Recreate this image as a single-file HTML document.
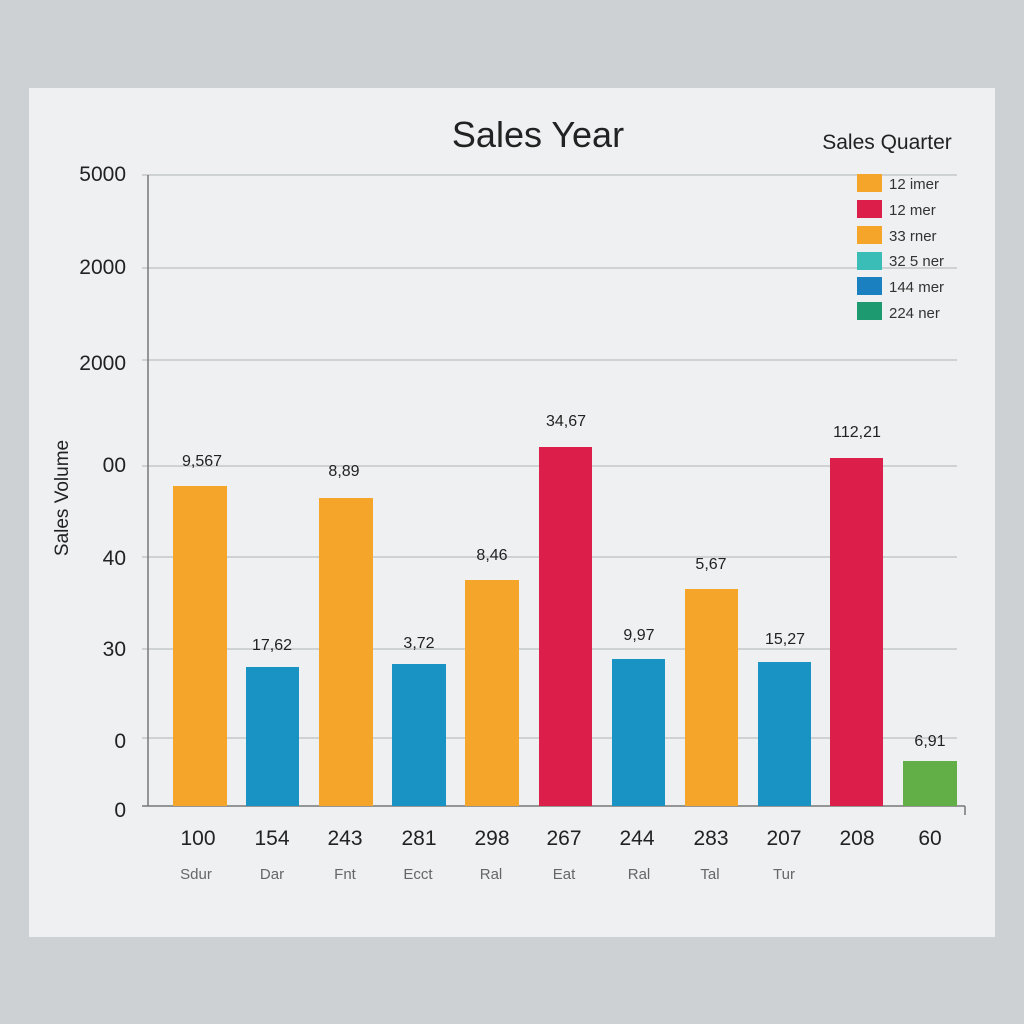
<!DOCTYPE html>
<html><head><style>
html,body{margin:0;padding:0;background:#cdd1d3;}
svg{display:block;font-family:"Liberation Sans",sans-serif;}
</style></head><body>
<svg width="1024" height="1024" viewBox="0 0 1024 1024">
<rect width="1024" height="1024" fill="#cdd1d3"/>
<rect x="29" y="88" width="966" height="849" fill="#eef0f1"/>
<text x="538" y="147" font-size="36" text-anchor="middle" fill="#222">Sales Year</text>
<text x="887" y="149" font-size="21" text-anchor="middle" fill="#222">Sales Quarter</text>
<g stroke="#c4c7c9" stroke-width="1.5">
<line x1="142" y1="175" x2="957" y2="175"/>
<line x1="142" y1="268" x2="957" y2="268"/>
<line x1="142" y1="360" x2="957" y2="360"/>
<line x1="142" y1="466" x2="957" y2="466"/>
<line x1="142" y1="557" x2="957" y2="557"/>
<line x1="142" y1="649" x2="957" y2="649"/>
<line x1="142" y1="738" x2="957" y2="738"/>
</g>
<line x1="148" y1="175" x2="148" y2="806" stroke="#777" stroke-width="1.5"/>
<line x1="142" y1="806" x2="965" y2="806" stroke="#777" stroke-width="1.5"/>
<line x1="965" y1="806" x2="965" y2="815" stroke="#777" stroke-width="1.5"/>
<g font-size="21" fill="#222" text-anchor="end">
<text x="126" y="181">5000</text>
<text x="126" y="274">2000</text>
<text x="126" y="370">2000</text>
<text x="126" y="472">00</text>
<text x="126" y="565">40</text>
<text x="126" y="656">30</text>
<text x="126" y="748">0</text>
<text x="126" y="817">0</text>
</g>
<text transform="translate(68,498) rotate(-90)" font-size="19" text-anchor="middle" fill="#222">Sales Volume</text>
<g>
<rect x="173" y="486" width="54" height="320" fill="#f5a62a"/>
<rect x="246" y="667" width="53" height="139" fill="#1993c4"/>
<rect x="319" y="498" width="54" height="308" fill="#f5a62a"/>
<rect x="392" y="664" width="54" height="142" fill="#1993c4"/>
<rect x="465" y="580" width="54" height="226" fill="#f5a62a"/>
<rect x="539" y="447" width="53" height="359" fill="#dc1e4a"/>
<rect x="612" y="659" width="53" height="147" fill="#1993c4"/>
<rect x="685" y="589" width="53" height="217" fill="#f5a62a"/>
<rect x="758" y="662" width="53" height="144" fill="#1993c4"/>
<rect x="830" y="458" width="53" height="348" fill="#dc1e4a"/>
<rect x="903" y="761" width="54" height="45" fill="#62ae47"/>
</g>
<g font-size="16" fill="#222" text-anchor="middle">
<text x="202" y="466">9,567</text>
<text x="272" y="650">17,62</text>
<text x="344" y="476">8,89</text>
<text x="419" y="648">3,72</text>
<text x="492" y="560">8,46</text>
<text x="566" y="426">34,67</text>
<text x="639" y="640">9,97</text>
<text x="711" y="569">5,67</text>
<text x="785" y="644">15,27</text>
<text x="857" y="437">112,21</text>
<text x="930" y="746">6,91</text>
</g>
<g font-size="21" fill="#222" text-anchor="middle">
<text x="198" y="845">100</text>
<text x="272" y="845">154</text>
<text x="345" y="845">243</text>
<text x="419" y="845">281</text>
<text x="492" y="845">298</text>
<text x="564" y="845">267</text>
<text x="637" y="845">244</text>
<text x="711" y="845">283</text>
<text x="784" y="845">207</text>
<text x="857" y="845">208</text>
<text x="930" y="845">60</text>
</g>
<g font-size="15" fill="#666" text-anchor="middle">
<text x="196" y="879">Sdur</text>
<text x="272" y="879">Dar</text>
<text x="345" y="879">Fnt</text>
<text x="418" y="879">Ecct</text>
<text x="491" y="879">Ral</text>
<text x="564" y="879">Eat</text>
<text x="639" y="879">Ral</text>
<text x="710" y="879">Tal</text>
<text x="784" y="879">Tur</text>
</g>
<g>
<rect x="857" y="174" width="25" height="18" fill="#f5a62a"/>
<rect x="857" y="200" width="25" height="18" fill="#dc1e4a"/>
<rect x="857" y="226" width="25" height="18" fill="#f5a62a"/>
<rect x="857" y="252" width="25" height="18" fill="#3bbdb7"/>
<rect x="857" y="277" width="25" height="18" fill="#1a80c0"/>
<rect x="857" y="302" width="25" height="18" fill="#1e9a70"/>
</g>
<g font-size="15" fill="#333">
<text x="889" y="189">12 imer</text>
<text x="889" y="215">12 mer</text>
<text x="889" y="241">33 rner</text>
<text x="889" y="266">32 5 ner</text>
<text x="889" y="292">144 mer</text>
<text x="889" y="318">224 ner</text>
</g>
</svg>
</body></html>
